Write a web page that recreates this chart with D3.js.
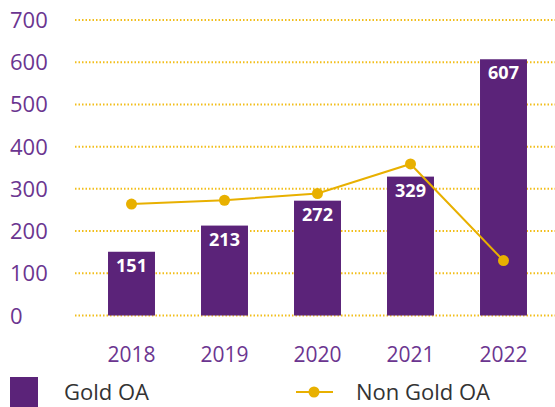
<!DOCTYPE html>
<html>
<head>
<meta charset="utf-8">
<script src="https://cdn.jsdelivr.net/npm/d3@7"></script>
<style>
  html, body { margin: 0; padding: 0; background: #fff; }
  svg { display: block; font-family: "Open Sans", sans-serif; }
</style>
</head>
<body>
<div id="chart"></div>
<script>
// --- data ---
const years = ["2018", "2019", "2020", "2021", "2022"];
const goldOA = [151, 213, 272, 329, 607];
const nonGoldOA = [264, 273, 289, 359, 130];
const yTicks = [0, 100, 200, 300, 400, 500, 600, 700];

// --- dims & colours ---
const width = 555, height = 407;
const colors = {
  bar: "#5B2379",
  line: "#E8B000",
  grid: "#F2BE1A",
  axisText: "#6B3590",
  legendText: "#333333"
};

const svg = d3.select("#chart").append("svg")
  .attr("width", width)
  .attr("height", height);

const x = d3.scaleBand().domain(years).range([85, 550]).paddingInner(0.495).paddingOuter(0.2475);
const y = d3.scaleLinear().domain([0, 700]).range([315.5, 20]);

// gridlines
svg.append("g")
  .selectAll("line")
  .data(yTicks)
  .join("line")
  .attr("x1", 75).attr("x2", width)
  .attr("y1", d => y(d)).attr("y2", d => y(d))
  .attr("stroke", colors.grid)
  .attr("stroke-width", 2)
  .attr("stroke-dasharray", "1.5,2");

// y labels
svg.append("g")
  .selectAll("text")
  .data(yTicks)
  .join("text")
  .attr("x", 10)
  .attr("y", d => y(d) + 8)
  .attr("fill", colors.axisText)
  .style("font-size", "22px")
  .text(d => d);

// bars
const bw = x.bandwidth();
svg.append("g")
  .selectAll("rect")
  .data(goldOA)
  .join("rect")
  .attr("x", (d, i) => x(years[i]))
  .attr("y", d => y(d))
  .attr("width", bw)
  .attr("height", d => y(0) - y(d))
  .attr("fill", colors.bar);

// bar labels
svg.append("g")
  .selectAll("text")
  .data(goldOA)
  .join("text")
  .attr("x", (d, i) => x(years[i]) + bw / 2)
  .attr("y", d => y(d) + 20)
  .attr("text-anchor", "middle")
  .attr("fill", "#fff")
  .style("font-size", "18px")
  .style("font-weight", 700)
  .text(d => d);

// line
const cx = i => x(years[i]) + bw / 2;
svg.append("path")
  .datum(nonGoldOA)
  .attr("d", d3.line().x((d, i) => cx(i)).y(d => y(d)))
  .attr("fill", "none")
  .attr("stroke", colors.line)
  .attr("stroke-width", 2);

svg.append("g")
  .selectAll("circle")
  .data(nonGoldOA)
  .join("circle")
  .attr("cx", (d, i) => cx(i))
  .attr("cy", d => y(d))
  .attr("r", 5.5)
  .attr("fill", colors.line);

// x labels
svg.append("g")
  .selectAll("text")
  .data(years)
  .join("text")
  .attr("x", d => x(d) + bw / 2)
  .attr("y", 362)
  .attr("text-anchor", "middle")
  .attr("fill", colors.axisText)
  .style("font-size", "21px")
  .text(d => d);

// legend
svg.append("rect")
  .attr("x", 10).attr("y", 377)
  .attr("width", 28).attr("height", 30)
  .attr("fill", colors.bar);
svg.append("text")
  .attr("x", 64).attr("y", 400)
  .attr("fill", colors.legendText)
  .style("font-size", "22px")
  .text("Gold OA");

svg.append("line")
  .attr("x1", 296).attr("x2", 333)
  .attr("y1", 392).attr("y2", 392)
  .attr("stroke", colors.line)
  .attr("stroke-width", 2);
svg.append("circle")
  .attr("cx", 314).attr("cy", 392)
  .attr("r", 5.5)
  .attr("fill", colors.line);
svg.append("text")
  .attr("x", 356).attr("y", 400)
  .attr("fill", colors.legendText)
  .style("font-size", "22px")
  .text("Non Gold OA");
</script>
</body>
</html>
